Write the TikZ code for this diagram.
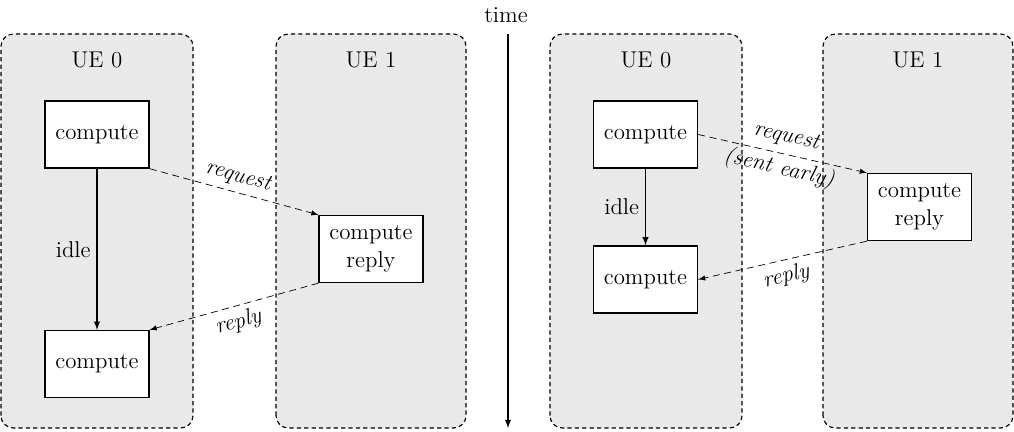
\documentclass[tikz,border=0pt]{standalone}
\usepackage{tikz}
\usetikzlibrary{arrows.meta,positioning}
\definecolor{lanegray}{gray}{0.915}
\newcommand{\lblsize}{\fontsize{13}{16}\selectfont}
\tikzstyle{lane} = [draw, line width=0.65pt, dash pattern=on 2.4pt off 1.8pt, rounded corners=7pt, fill=lanegray]
\tikzstyle{task} = [draw, fill=white, line width=0.8pt, minimum width=2.08cm, minimum height=1.34cm, align=center, font=\lblsize, inner sep=1pt]
\tikzstyle{msg} = [draw, dash pattern=on 4pt off 2.6pt, ->]
\tikzstyle{lbl} = [font=\lblsize]
\tikzset{>=latex}

\begin{document}
\begin{tikzpicture}
    \useasboundingbox (0,0) rectangle (20.28,8.62);
    % lanes
    \draw [lane] (0.02,0.06) rectangle (3.86,7.94);
    \draw [lane] (5.52,0.06) rectangle (9.32,7.94);
    \draw [lane] (11.0,0.06) rectangle (14.84,7.94);
    \draw [lane] (16.46,0.06) rectangle (20.26,7.94);
    \node [lbl] (ueA) at (1.94,7.42) {UE 0};
    \node [lbl] (ueB) at (7.42,7.42) {UE 1};
    \node [lbl] (ueC) at (12.92,7.42) {UE 0};
    \node [lbl] (ueD) at (18.36,7.42) {UE 1};
    % time axis
    \node [lbl] (time) at (10.12,8.32) {time};
    \coordinate (tend) at (10.16,0.06);
    \draw [semithick,->] (time.south -| tend) ++(0,-0.1) -- (tend);
    % synchronous exchange
    \node [task] (c1) at (1.94,5.93) {compute};
    \node [task] (c2) at (1.94,1.34) {compute};
    \node [task] (rep) at (7.42,3.64) {compute\\reply};
    \draw [semithick,->] (c1) -- (c2) node [midway,left,lbl] {idle};
    \draw [msg] (c1.south east) -- (rep.north west) node [midway,above,sloped,lbl] {\itshape request};
    \draw [msg] (rep.south west) -- (c2.north east) node [midway,below,sloped,lbl] {\itshape reply};
    % request sent early
    \node [task] (e1) at (12.91,5.93) {compute};
    \node [task] (e2) at (12.91,3.03) {compute};
    \node [task] (erep) at (18.39,4.48) {compute\\reply};
    \draw [semithick,->] (e1) -- (e2) node [midway,left,lbl] {idle};
    \draw [msg] (e1.east) -- (erep.north west) node [midway,sloped,align=center,lbl,font=\lblsize\itshape] {request\\[3pt](sent early)};
    \draw [msg] (erep.south west) -- (e2.east) node [midway,below,sloped,lbl] {\itshape reply};
\end{tikzpicture}
\end{document}
